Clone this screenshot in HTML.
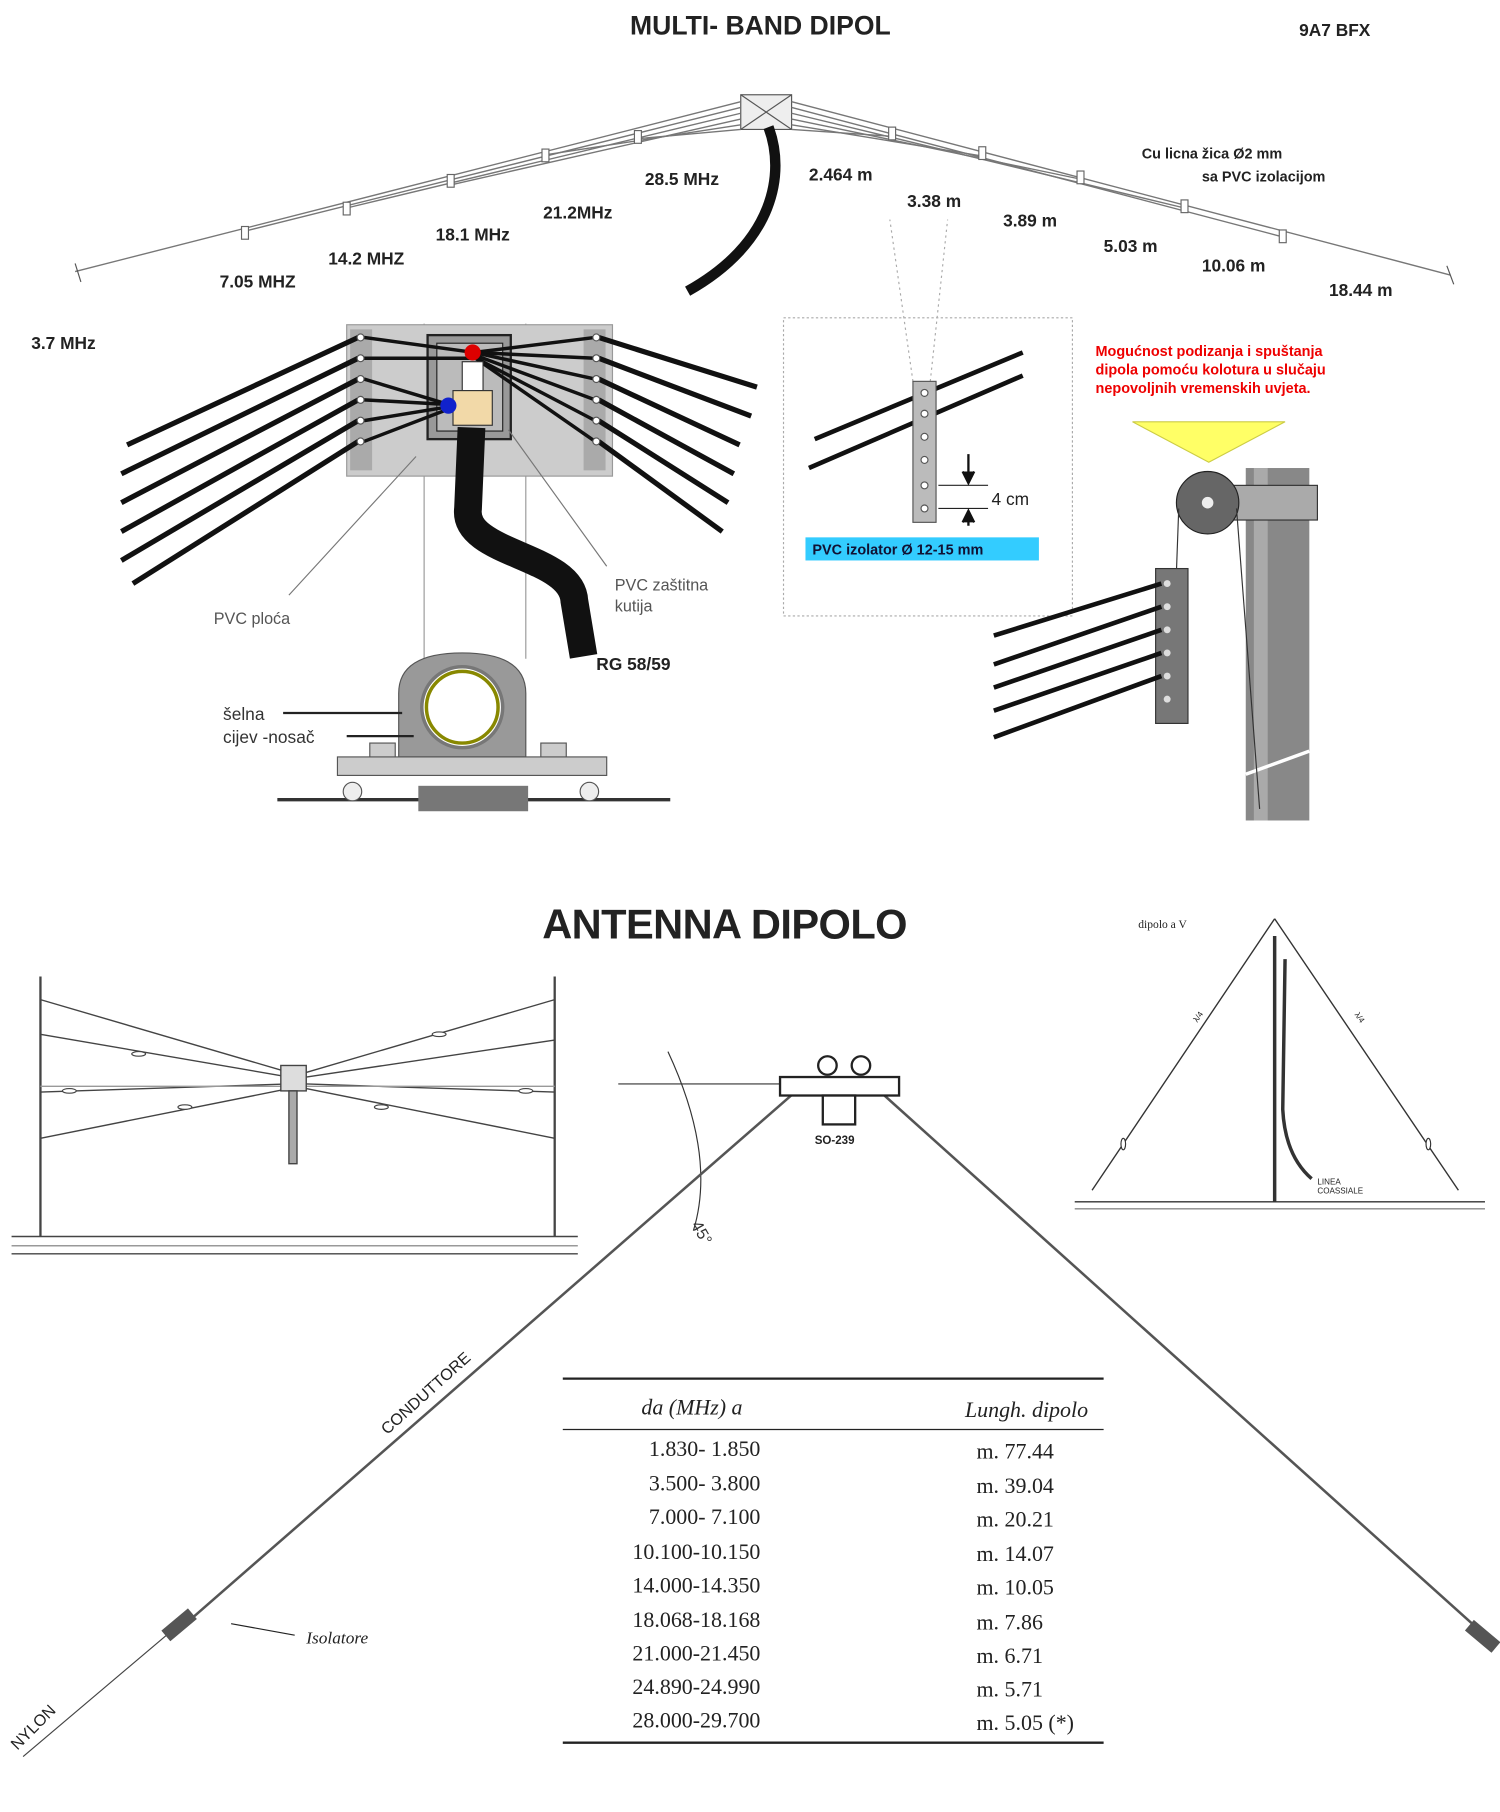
<!DOCTYPE html>
<html><head><meta charset="utf-8"><style>
html,body{margin:0;padding:0;background:#fff;width:1500px;height:1812px;overflow:hidden}
svg{display:block}
.s{font-family:"Liberation Sans",sans-serif}
.r{font-family:"Liberation Serif",serif}
</style></head><body>
<svg width="1500" height="1812" viewBox="0 0 1298 1568" preserveAspectRatio="none" xmlns="http://www.w3.org/2000/svg">
<rect width="1298" height="1568" fill="#fff"/>
<text x="658" y="30" class="s" font-size="23" font-weight="bold" text-anchor="middle" fill="#222">MULTI- BAND DIPOL</text>
<text x="1155" y="31" class="s" font-size="15" font-weight="bold" text-anchor="middle" fill="#222">9A7 BFX</text>
<rect x="641" y="82" width="44" height="30" fill="#eee" stroke="#555"/>
<line x1="641" y1="82" x2="685" y2="112" stroke="#555"/><line x1="685" y1="82" x2="641" y2="112" stroke="#555"/>
<g stroke="#777" stroke-width="1.2" fill="none">
<line x1="641" y1="88" x2="65" y2="235"/>
<line x1="641" y1="93" x2="212" y2="200"/>
<line x1="641" y1="98" x2="300" y2="180"/>
<line x1="641" y1="103" x2="390" y2="160"/>
<line x1="641" y1="108" x2="472" y2="134"/>
<line x1="641" y1="112" x2="552" y2="120"/>
<line x1="685" y1="88" x2="1255" y2="238"/>
<line x1="685" y1="93" x2="1110" y2="205"/>
<line x1="685" y1="98" x2="1025" y2="180"/>
<line x1="685" y1="103" x2="935" y2="155"/>
<line x1="685" y1="108" x2="850" y2="135"/>
<line x1="685" y1="112" x2="772" y2="118"/>
</g>
<g fill="#fff" stroke="#666">
<rect x="209" y="196" width="6" height="11"/><rect x="297" y="175" width="6" height="11"/><rect x="387" y="151" width="6" height="11"/><rect x="469" y="129" width="6" height="11"/><rect x="549" y="113" width="6" height="11"/>
<rect x="769" y="110" width="6" height="11"/><rect x="847" y="127" width="6" height="11"/><rect x="932" y="148" width="6" height="11"/><rect x="1022" y="173" width="6" height="11"/><rect x="1107" y="199" width="6" height="11"/>
</g>
<line x1="65" y1="228" x2="70" y2="244" stroke="#555"/><line x1="1252" y1="230" x2="1258" y2="246" stroke="#555"/>
<path d="M665 110 C 680 150, 670 210, 595 252" stroke="#111" stroke-width="9" fill="none"/>
<g class="s" font-size="15" font-weight="bold" fill="#222">
<text x="190" y="249">7.05 MHZ</text><text x="284" y="229">14.2 MHZ</text><text x="377" y="208">18.1 MHz</text><text x="470" y="189">21.2MHz</text><text x="558" y="160">28.5 MHz</text>
<text x="700" y="156">2.464 m</text><text x="785" y="179">3.38 m</text><text x="868" y="196">3.89 m</text><text x="955" y="218">5.03 m</text><text x="1040" y="235">10.06 m</text><text x="1150" y="256">18.44 m</text>
<text x="27" y="302">3.7 MHz</text>
</g>
<g class="s" font-size="12.5" font-weight="bold" fill="#222"><text x="988" y="137">Cu licna žica Ø2 mm</text><text x="1040" y="157">sa PVC izolacijom</text></g>
<line x1="367" y1="280" x2="367" y2="570" stroke="#999"/><line x1="455" y1="280" x2="455" y2="570" stroke="#999"/>
<rect x="300" y="281" width="230" height="131" fill="#ccc" stroke="#999"/>
<rect x="303" y="285" width="19" height="122" fill="#aaa"/><rect x="505" y="285" width="19" height="122" fill="#aaa"/>
<g stroke="#111" stroke-width="4.5">
<line x1="310" y1="292" x2="110" y2="385"/><line x1="310" y1="310" x2="105" y2="410"/><line x1="310" y1="328" x2="105" y2="435"/><line x1="310" y1="346" x2="105" y2="460"/><line x1="310" y1="364" x2="105" y2="485"/><line x1="310" y1="382" x2="115" y2="505"/>
<line x1="518" y1="292" x2="655" y2="335"/><line x1="518" y1="310" x2="650" y2="360"/><line x1="518" y1="328" x2="640" y2="385"/><line x1="518" y1="346" x2="635" y2="410"/><line x1="518" y1="364" x2="630" y2="435"/><line x1="518" y1="382" x2="625" y2="460"/>
</g>
<rect x="370" y="290" width="72" height="90" fill="#999" stroke="#222" stroke-width="2"/>
<rect x="378" y="297" width="57" height="76" fill="#bbb" stroke="#222"/>
<g stroke="#111" stroke-width="3">
<line x1="410" y1="305" x2="315" y2="292"/><line x1="410" y1="310" x2="315" y2="310"/><line x1="388" y1="350" x2="315" y2="328"/><line x1="388" y1="350" x2="315" y2="346"/><line x1="388" y1="352" x2="315" y2="364"/><line x1="388" y1="354" x2="315" y2="382"/>
<line x1="410" y1="305" x2="515" y2="292"/><line x1="410" y1="305" x2="515" y2="310"/><line x1="410" y1="305" x2="515" y2="328"/><line x1="410" y1="307" x2="515" y2="346"/><line x1="410" y1="309" x2="515" y2="364"/><line x1="410" y1="309" x2="515" y2="382"/>
</g>
<rect x="400" y="313" width="18" height="25" fill="#fff" stroke="#333"/>
<rect x="392" y="338" width="34" height="30" fill="#f2d9a8" stroke="#333"/>
<circle cx="409" cy="305" r="7" fill="#d00"/><circle cx="388" cy="351" r="7" fill="#12c"/>
<g fill="#fff" stroke="#555"><circle cx="312" cy="292" r="3"/><circle cx="312" cy="310" r="3"/><circle cx="312" cy="328" r="3"/><circle cx="312" cy="346" r="3"/><circle cx="312" cy="364" r="3"/><circle cx="312" cy="382" r="3"/><circle cx="516" cy="292" r="3"/><circle cx="516" cy="310" r="3"/><circle cx="516" cy="328" r="3"/><circle cx="516" cy="346" r="3"/><circle cx="516" cy="364" r="3"/><circle cx="516" cy="382" r="3"/></g>
<path d="M408 370 L405 440 C 400 480, 495 480, 497 520 L505 568" stroke="#111" stroke-width="24" fill="none"/>
<g stroke="#777" fill="none"><line x1="360" y1="395" x2="250" y2="515"/><line x1="440" y1="372" x2="525" y2="490"/></g>
<g class="s" font-size="14" fill="#555"><text x="185" y="540">PVC ploća</text><text x="532" y="511">PVC  zaštitna</text><text x="532" y="529">kutija</text></g>
<text x="516" y="580" class="s" font-size="15" font-weight="bold" fill="#222">RG 58/59</text>
<path d="M345 655 L345 600 Q345 565 400 565 Q455 565 455 600 L455 655 Z" fill="#999" stroke="#555"/>
<circle cx="400" cy="612" r="35" fill="#fff" stroke="#777" stroke-width="3"/>
<circle cx="400" cy="612" r="31" fill="none" stroke="#880" stroke-width="3"/>
<rect x="292" y="655" width="233" height="16" fill="#ccc" stroke="#555"/>
<rect x="320" y="643" width="22" height="12" fill="#ccc" stroke="#555"/><rect x="468" y="643" width="22" height="12" fill="#ccc" stroke="#555"/>
<line x1="240" y1="692" x2="580" y2="692" stroke="#333" stroke-width="3"/>
<rect x="362" y="680" width="95" height="22" fill="#777"/>
<circle cx="305" cy="685" r="8" fill="#eee" stroke="#555"/><circle cx="510" cy="685" r="8" fill="#eee" stroke="#555"/>
<g class="s" font-size="15" fill="#333"><text x="193" y="623">šelna</text><text x="193" y="643">cijev -nosač</text></g>
<line x1="245" y1="617" x2="348" y2="617" stroke="#222" stroke-width="2"/><line x1="300" y1="637" x2="358" y2="637" stroke="#222" stroke-width="2"/>
<rect x="678" y="275" width="250" height="258" fill="none" stroke="#aaa" stroke-dasharray="2 2"/>
<g stroke="#aaa" stroke-dasharray="2 3"><line x1="790" y1="330" x2="770" y2="190"/><line x1="805" y1="330" x2="820" y2="190"/></g>
<g stroke="#111" stroke-width="4"><line x1="705" y1="380" x2="885" y2="305"/><line x1="700" y1="405" x2="885" y2="325"/></g>
<rect x="790" y="330" width="20" height="122" fill="#bbb" stroke="#555"/>
<g fill="#fff" stroke="#555"><circle cx="800" cy="340" r="3"/><circle cx="800" cy="358" r="3"/><circle cx="800" cy="378" r="3"/><circle cx="800" cy="398" r="3"/><circle cx="800" cy="420" r="3"/><circle cx="800" cy="440" r="3"/></g>
<line x1="812" y1="420" x2="855" y2="420" stroke="#222"/><line x1="812" y1="440" x2="855" y2="440" stroke="#222"/>
<path d="M838 393 L838 415 M833 408 L838 418 L843 408 M838 445 L838 455 M833 452 L838 442 L843 452" stroke="#111" stroke-width="2" fill="#111"/>
<text x="858" y="437" class="s" font-size="15" fill="#222">4 cm</text>
<rect x="697" y="465" width="202" height="20" fill="#3cf"/>
<text x="703" y="480" class="s" font-size="12.5" font-weight="bold" fill="#113">PVC izolator  Ø 12-15 mm</text>
<g class="s" font-size="12.5" font-weight="bold" fill="#e00"><text x="948" y="308">Mogućnost podizanja i spuštanja</text><text x="948" y="324">dipola pomoću kolotura  u slučaju</text><text x="948" y="340">nepovoljnih vremenskih uvjeta.</text></g>
<path d="M980 365 L1112 365 L1046 400 Z" fill="#ff6" stroke="#cc4"/>
<rect x="1078" y="405" width="55" height="305" fill="#888"/>
<rect x="1085" y="405" width="12" height="305" fill="#aaa"/>
<line x1="1078" y1="670" x2="1133" y2="650" stroke="#fff" stroke-width="3"/>
<rect x="1045" y="420" width="95" height="30" fill="#aaa" stroke="#333"/>
<circle cx="1045" cy="435" r="27" fill="#666" stroke="#222"/><circle cx="1045" cy="435" r="5" fill="#eee"/>
<line x1="1020" y1="440" x2="1018" y2="495" stroke="#333"/><line x1="1070" y1="440" x2="1090" y2="700" stroke="#333"/>
<rect x="1000" y="492" width="28" height="134" fill="#777" stroke="#333"/>
<g fill="#ddd"><circle cx="1010" cy="505" r="3"/><circle cx="1010" cy="525" r="3"/><circle cx="1010" cy="545" r="3"/><circle cx="1010" cy="565" r="3"/><circle cx="1010" cy="585" r="3"/><circle cx="1010" cy="605" r="3"/></g>
<g stroke="#111" stroke-width="4"><line x1="1005" y1="505" x2="860" y2="550"/><line x1="1005" y1="525" x2="860" y2="575"/><line x1="1005" y1="545" x2="860" y2="595"/><line x1="1005" y1="565" x2="860" y2="615"/><line x1="1005" y1="585" x2="860" y2="638"/></g>
<!-- BOTTOM -->
<text x="627" y="812" class="s" font-size="36" font-weight="bold" text-anchor="middle" fill="#222" letter-spacing="-0.5">ANTENNA  DIPOLO</text>
<g stroke="#444" fill="none" stroke-width="1.2">
<line x1="35" y1="845" x2="35" y2="1070" stroke-width="2"/><line x1="480" y1="845" x2="480" y2="1070" stroke-width="2"/>
<line x1="10" y1="1070" x2="500" y2="1070"/><line x1="10" y1="1085" x2="500" y2="1085"/><line x1="10" y1="1078" x2="500" y2="1078" stroke="#999"/>
<line x1="35" y1="865" x2="250" y2="928"/><line x1="35" y1="895" x2="250" y2="932"/><line x1="35" y1="945" x2="250" y2="938"/><line x1="35" y1="985" x2="250" y2="942"/>
<line x1="480" y1="865" x2="265" y2="928"/><line x1="480" y1="900" x2="265" y2="932"/><line x1="480" y1="945" x2="265" y2="938"/><line x1="480" y1="985" x2="265" y2="942"/>
<line x1="35" y1="940" x2="480" y2="940" stroke="#999"/>
<rect x="243" y="922" width="22" height="22" fill="#ddd"/><rect x="250" y="944" width="7" height="63" fill="#aaa"/>
</g>
<g fill="#fff" stroke="#444"><ellipse cx="120" cy="912" rx="6" ry="2"/><ellipse cx="160" cy="958" rx="6" ry="2"/><ellipse cx="380" cy="895" rx="6" ry="2"/><ellipse cx="330" cy="958" rx="6" ry="2"/><ellipse cx="60" cy="944" rx="6" ry="2"/><ellipse cx="455" cy="944" rx="6" ry="2"/></g>
<g stroke="#333" fill="none" stroke-width="1.2">
<line x1="1103" y1="795" x2="945" y2="1030"/><line x1="1103" y1="795" x2="1262" y2="1030"/>
<line x1="1103" y1="810" x2="1103" y2="1040" stroke-width="3"/><path d="M1112 830 L1110 960 Q1112 1000 1135 1020" stroke-width="3"/>
<line x1="930" y1="1040" x2="1285" y2="1040"/><line x1="930" y1="1046" x2="1285" y2="1046" stroke="#888"/>
</g>
<g fill="#fff" stroke="#333"><ellipse cx="972" cy="990" rx="2" ry="5"/><ellipse cx="1236" cy="990" rx="2" ry="5"/></g>
<text x="1036" y="885" class="s" font-size="7" fill="#222" transform="rotate(-55 1036 885)">λ/4</text>
<text x="1172" y="878" class="s" font-size="7" fill="#222" transform="rotate(55 1172 878)">λ/4</text>
<text x="985" y="803" class="r" font-size="10" fill="#222">dipolo a V</text>
<text x="1140" y="1025" class="s" font-size="7" fill="#222">LINEA</text><text x="1140" y="1033" class="s" font-size="7" fill="#222">COASSIALE</text>
<line x1="535" y1="938" x2="680" y2="938" stroke="#333"/>
<path d="M578 910 Q620 1000 600 1065" stroke="#333" fill="none"/>
<text x="598" y="1060" class="s" font-size="14" fill="#333" transform="rotate(60 598 1060)">45°</text>
<g stroke="#555" stroke-width="2.2" fill="none">
<line x1="688" y1="945" x2="155" y2="1410"/><line x1="762" y1="945" x2="1285" y2="1415"/>
</g>
<line x1="150" y1="1410" x2="20" y2="1520" stroke="#444"/>
<rect x="675" y="932" width="103" height="16" fill="#fff" stroke="#222" stroke-width="2"/>
<g fill="#fff" stroke="#222" stroke-width="2"><circle cx="716" cy="922" r="8"/><circle cx="745" cy="922" r="8"/></g>
<rect x="712" y="948" width="28" height="25" fill="#fff" stroke="#222" stroke-width="2"/>
<text x="705" y="990" class="s" font-size="10" font-weight="bold" fill="#222">SO-239</text>
<rect x="140" y="1400" width="30" height="12" fill="#555" transform="rotate(-40 155 1406)"/>
<rect x="1268" y="1410" width="30" height="12" fill="#555" transform="rotate(40 1283 1416)"/>
<text x="335" y="1242" class="s" font-size="14" fill="#222" transform="rotate(-42 335 1242)">CONDUTTORE</text>
<text x="15" y="1515" class="s" font-size="14" fill="#222" transform="rotate(-45 15 1515)">NYLON</text>
<text x="265" y="1422" class="r" font-size="15" font-style="italic" fill="#222">Isolatore</text>
<path d="M255 1415 L200 1405" stroke="#222" fill="none"/>
<g stroke="#222"><line x1="487" y1="1193" x2="955" y2="1193" stroke-width="2"/><line x1="487" y1="1237" x2="955" y2="1237"/><line x1="487" y1="1508" x2="955" y2="1508" stroke-width="2"/></g>
<g class="r" font-size="19" font-style="italic" fill="#222"><text x="555" y="1224">da (MHz) a</text><text x="835" y="1226">Lungh. dipolo</text></g>
<g class="r" font-size="19" fill="#222">
<text x="658" y="1260" text-anchor="end">1.830- 1.850</text><text x="845" y="1262">m. 77.44</text>
<text x="658" y="1290" text-anchor="end">3.500- 3.800</text><text x="845" y="1292">m. 39.04</text>
<text x="658" y="1319" text-anchor="end">7.000- 7.100</text><text x="845" y="1321">m. 20.21</text>
<text x="658" y="1349" text-anchor="end">10.100-10.150</text><text x="845" y="1351">m. 14.07</text>
<text x="658" y="1378" text-anchor="end">14.000-14.350</text><text x="845" y="1380">m. 10.05</text>
<text x="658" y="1408" text-anchor="end">18.068-18.168</text><text x="845" y="1410">m.   7.86</text>
<text x="658" y="1437" text-anchor="end">21.000-21.450</text><text x="845" y="1439">m.   6.71</text>
<text x="658" y="1466" text-anchor="end">24.890-24.990</text><text x="845" y="1468">m.   5.71</text>
<text x="658" y="1495" text-anchor="end">28.000-29.700</text><text x="845" y="1497">m.   5.05 (*)</text>
</g>
</svg>
</body></html>
